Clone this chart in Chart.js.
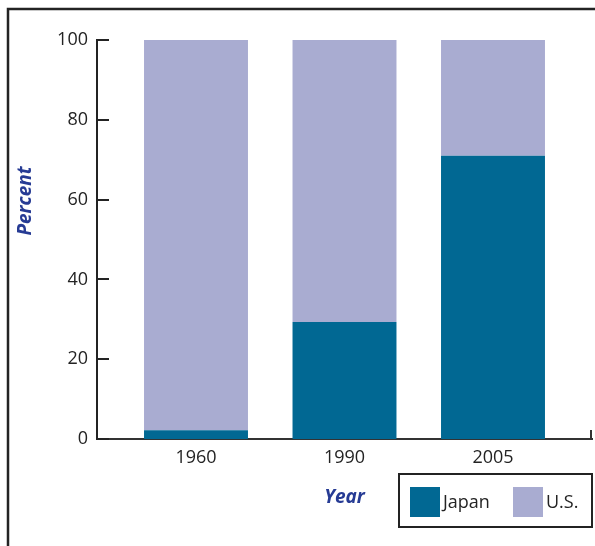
<!DOCTYPE html>
<html>
<head>
<meta charset="utf-8">
<script src="https://cdn.jsdelivr.net/npm/chart.js@4"></script>
<style>
html,body{margin:0;padding:0;background:#fff;}
#wrap{width:595px;height:546px;position:relative;}
</style>
</head>
<body>
<div id="wrap"><canvas id="c" width="595" height="546"></canvas></div>
<script>
const years = ['1960', '1990', '2005'];
const japan = [2.2, 29.3, 71];
const us = [97.8, 70.7, 29];
const seriesNames = ['Japan', 'U.S.'];
const yTicks = [0, 20, 40, 60, 80, 100];

const colJapan = '#016893';
const colUS = '#a9acd1';
const titleColor = '#263b94';
const ink = '#232323';
const FONT = "'Open Sans', sans-serif";

const decor = {
  id: 'decor',
  afterDraw(chart) {
    const ctx = chart.ctx;
    const ya = chart.scales.y;
    const area = chart.chartArea;
    ctx.save();
    // frame
    ctx.strokeStyle = ink;
    ctx.lineWidth = 2.5;
    ctx.beginPath();
    ctx.moveTo(8, 546);
    ctx.lineTo(8, 9);
    ctx.lineTo(595, 9);
    ctx.stroke();
    // inward y ticks
    ctx.lineWidth = 2;
    ctx.beginPath();
    yTicks.forEach(v => {
      const py = Math.round(ya.getPixelForValue(v));
      ctx.moveTo(area.left, py);
      ctx.lineTo(area.left + 12, py);
    });
    ctx.stroke();
    // right end tick of x axis
    ctx.strokeStyle = '#333';
    ctx.beginPath();
    ctx.moveTo(area.right - 1, area.bottom);
    ctx.lineTo(area.right - 1, area.bottom - 9);
    ctx.stroke();
    // axis titles
    ctx.fillStyle = titleColor;
    ctx.font = "italic bold 19px " + FONT;
    ctx.textAlign = 'center';
    ctx.textBaseline = 'middle';
    ctx.fillText('Year', (area.left + area.right) / 2, 498);
    ctx.save();
    ctx.translate(26, 201);
    ctx.rotate(-Math.PI / 2);
    ctx.fillText('Percent', 0, 0);
    ctx.restore();
    // legend
    ctx.strokeStyle = ink;
    ctx.lineWidth = 2;
    ctx.strokeRect(399, 474, 193, 53);
    const cols = [colJapan, colUS];
    const xs = [410, 513];
    ctx.font = "18px " + FONT;
    ctx.textAlign = 'left';
    ctx.fillStyle = ink;
    seriesNames.forEach((n, i) => {
      ctx.fillStyle = cols[i];
      ctx.fillRect(xs[i], 487, 30, 30);
      ctx.fillStyle = ink;
      ctx.fillText(n, xs[i] + 33, 503);
    });
    ctx.restore();
  }
};

new Chart(document.getElementById('c'), {
  type: 'bar',
  data: {
    datasets: [
      { label: seriesNames[0], data: years.map((y, i) => ({ x: i, y: japan[i] })), backgroundColor: colJapan, borderWidth: 0 },
      { label: seriesNames[1], data: years.map((y, i) => ({ x: i, y: us[i] })), backgroundColor: colUS, borderWidth: 0 }
    ]
  },
  options: {
    responsive: false,
    animation: false,
    barPercentage: 0.7,
    categoryPercentage: 1.0,
    layout: { padding: { left: 0, right: 3, top: 40, bottom: 0 } },
    plugins: { legend: { display: false }, tooltip: { enabled: false } },
    scales: {
      x: {
        type: 'linear',
        stacked: true,
        offset: false,
        min: -2 / 3,
        max: 2 + 2 / 3,
        afterBuildTicks(s) { s.ticks = years.map((_, i) => ({ value: i })); },
        afterFit(s) { s.height = 107; },
        grid: { display: false, drawTicks: false },
        border: { display: true, color: '#333', width: 2 },
        ticks: {
          autoSkip: false,
          padding: 8,
          color: ink,
          font: { family: FONT, size: 18 },
          callback: v => years[v]
        }
      },
      y: {
        stacked: true,
        min: 0,
        max: 100,
        afterBuildTicks(s) { s.ticks = yTicks.map(v => ({ value: v })); },
        afterFit(s) { s.width = 97; },
        grid: { display: false, drawTicks: false },
        border: { display: true, color: ink, width: 2 },
        ticks: {
          padding: 9,
          color: ink,
          font: { family: FONT, size: 18 }
        }
      }
    }
  },
  plugins: [decor]
});
</script>
</body>
</html>
